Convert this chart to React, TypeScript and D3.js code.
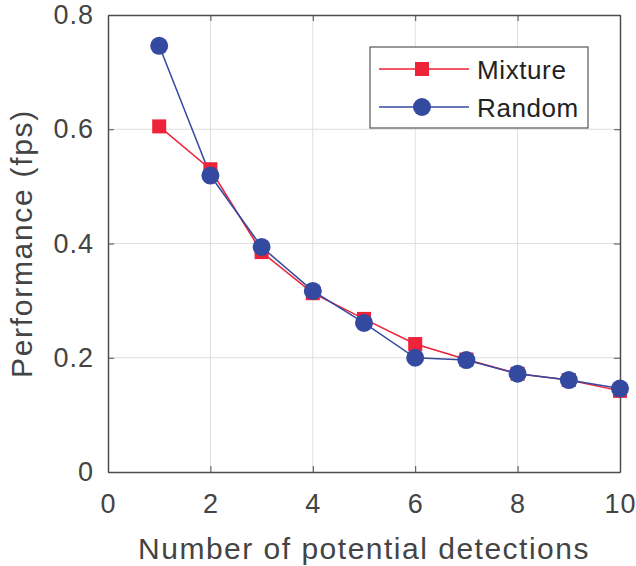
import React, { useEffect, useRef } from 'react';
import * as d3 from 'd3';

// Performance vs number of potential detections

const detections = [1, 2, 3, 4, 5, 6, 7, 8, 9, 10];
const mixture = [0.605, 0.53, 0.385, 0.313, 0.268, 0.224, 0.197, 0.172, 0.161, 0.142];
const random = [0.746, 0.519, 0.394, 0.317, 0.261, 0.2, 0.196, 0.172, 0.161, 0.146];
const xTicks = [0, 2, 4, 6, 8, 10];
const yTicks = [0, 0.2, 0.4, 0.6, 0.8];

const RED = '#ee2239';
const BLUE = '#344aa0';
const FONT = '"Liberation Sans", Arial, sans-serif';

export default function App() {
  const ref = useRef<SVGSVGElement>(null);

  useEffect(() => {
    const svg = d3.select(ref.current);
    svg.selectAll('*').remove();

    const W = 636, H = 566;
    const margin = { top: 15, right: 16, bottom: 94, left: 108 };
    const w = W - margin.left - margin.right;
    const h = H - margin.top - margin.bottom;

    const x = d3.scaleLinear().domain([0, 10]).range([0, w]);
    const y = d3.scaleLinear().domain([0, 0.8]).range([h, 0]);

    const g = svg.append('g').attr('transform', `translate(${margin.left},${margin.top})`);

    // grid
    g.selectAll('.xgrid').data(xTicks.slice(1, -1)).join('line')
      .attr('x1', d => x(d)).attr('x2', d => x(d)).attr('y1', 0).attr('y2', h)
      .attr('stroke', '#dedede').attr('stroke-width', 1);
    g.selectAll('.ygrid').data(yTicks.slice(1, -1)).join('line')
      .attr('class', 'ygrid')
      .attr('x1', 0).attr('x2', w).attr('y1', d => y(d)).attr('y2', d => y(d))
      .attr('stroke', '#dedede').attr('stroke-width', 1);

    // axes (ticks inward)
    const xAxis = g.append('g').attr('transform', `translate(0,${h})`)
      .call(d3.axisBottom(x).tickValues(xTicks).tickSizeInner(-6).tickSizeOuter(0).tickPadding(22).tickFormat(d3.format('d')));
    const yAxis = g.append('g')
      .call(d3.axisLeft(y).tickValues(yTicks).tickSizeInner(-6).tickSizeOuter(0).tickPadding(14).tickFormat(d => d === 0 ? '0' : d3.format('.1f')(d as number)));
    const topAxis = g.append('g')
      .call(d3.axisTop(x).tickValues(xTicks).tickSizeInner(-6).tickSizeOuter(0).tickFormat(() => ''));
    const rightAxis = g.append('g').attr('transform', `translate(${w},0)`)
      .call(d3.axisRight(y).tickValues(yTicks).tickSizeInner(-6).tickSizeOuter(0).tickFormat(() => ''));

    [xAxis, yAxis, topAxis, rightAxis].forEach(a => {
      a.select('.domain').attr('stroke', '#4d4d4d').attr('stroke-width', 1.5);
      a.selectAll('.tick line').attr('stroke', '#4d4d4d');
      a.selectAll('text').attr('font-family', FONT).attr('font-size', 27)
        .attr('letter-spacing', 1).attr('fill', '#444');
    });

    // lines
    const line = d3.line<number>().x((_, i) => x(detections[i])).y(d => y(d));
    g.append('path').datum(mixture).attr('d', line).attr('fill', 'none').attr('stroke', RED).attr('stroke-width', 1.5);
    g.append('path').datum(random).attr('d', line).attr('fill', 'none').attr('stroke', BLUE).attr('stroke-width', 1.5);

    // markers
    const sq = 14;
    g.selectAll('.mix').data(mixture).join('rect')
      .attr('x', (_, i) => x(detections[i]) - sq / 2).attr('y', d => y(d) - sq / 2)
      .attr('width', sq).attr('height', sq).attr('fill', RED);
    g.selectAll('.rnd').data(random).join('circle')
      .attr('cx', (_, i) => x(detections[i])).attr('cy', d => y(d))
      .attr('r', 9).attr('fill', BLUE);

    // legend
    const lg = svg.append('g').attr('transform', 'translate(370,47)');
    lg.append('rect').attr('width', 218).attr('height', 81)
      .attr('fill', 'white').attr('stroke', '#555').attr('stroke-width', 1.2);
    const items = [
      { name: 'Mixture', color: RED, shape: 'square' },
      { name: 'Random', color: BLUE, shape: 'circle' },
    ];
    items.forEach((it, i) => {
      const cy = 22 + i * 38;
      lg.append('line').attr('x1', 9).attr('x2', 99).attr('y1', cy).attr('y2', cy)
        .attr('stroke', it.color).attr('stroke-width', 1.5);
      if (it.shape === 'square') {
        lg.append('rect').attr('x', 52 - sq / 2).attr('y', cy - sq / 2).attr('width', sq).attr('height', sq).attr('fill', it.color);
      } else {
        lg.append('circle').attr('cx', 52).attr('cy', cy).attr('r', 9).attr('fill', it.color);
      }
      lg.append('text').attr('x', 107).attr('y', cy + 9.5).text(it.name)
        .attr('font-family', FONT).attr('font-size', 26).attr('letter-spacing', 0.6).attr('fill', '#222');
    });

    // axis labels
    svg.append('text').attr('text-anchor', 'middle')
      .attr('x', margin.left + w / 2).attr('y', 559)
      .attr('font-family', FONT).attr('font-size', 30).attr('letter-spacing', 1.5).attr('fill', '#444')
      .text('Number of potential detections');
    svg.append('text').attr('text-anchor', 'middle')
      .attr('transform', `translate(32,${margin.top + h / 2}) rotate(-90)`)
      .attr('font-family', FONT).attr('font-size', 30).attr('letter-spacing', 1.7).attr('fill', '#444')
      .text('Performance (fps)');
  }, []);

  return (
    <svg ref={ref} width={636} height={566} style={{ position: 'absolute', left: 0, top: 0, background: 'white' }} />
  );
}
